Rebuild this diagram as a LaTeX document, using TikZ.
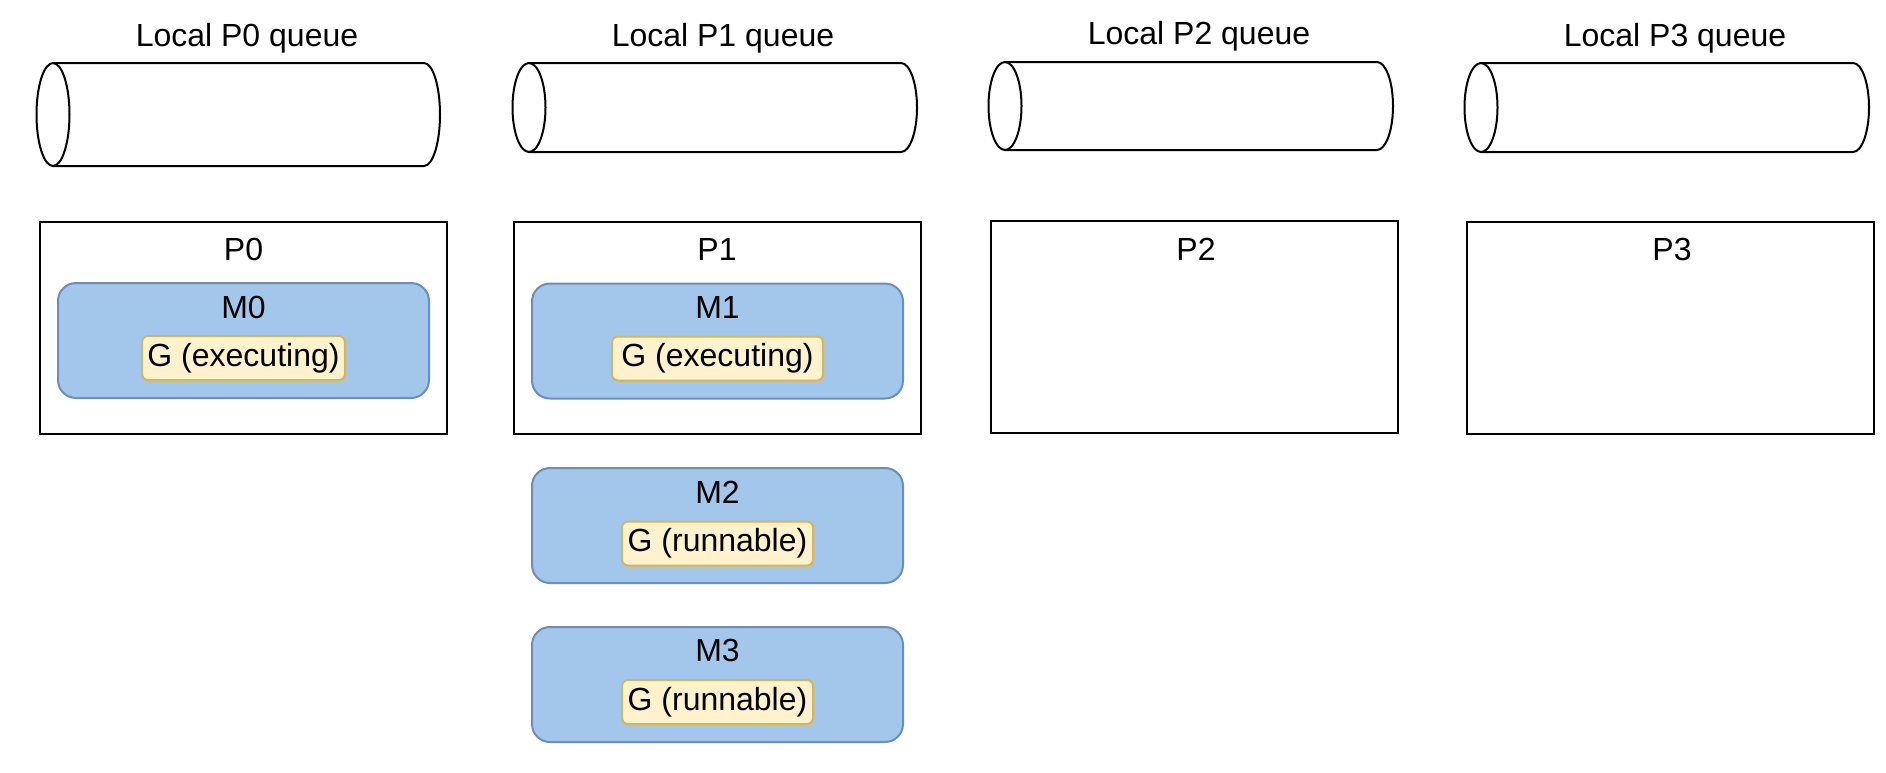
\documentclass[tikz,border=0pt]{standalone}
\usepackage{fontspec}
\setmainfont{Liberation Sans}
\definecolor{mfill}{HTML}{A3C7EA}
\definecolor{mdraw}{HTML}{6C8EBF}
\definecolor{gfill}{HTML}{FFF2CC}
\definecolor{gdraw}{HTML}{D6B656}
\begin{document}
\begin{tikzpicture}[x=1pt,y=-1pt,
  font=\fontsize{32}{38}\selectfont,
  pbox/.style={draw=black, line width=2pt, minimum height=212pt, minimum width=407pt, inner sep=0pt},
  mbox/.style={draw=mdraw, fill=mfill, line width=2pt, rounded corners=18pt, minimum width=371pt, minimum height=115pt, inner sep=0pt},
  gbox/.style={draw=gdraw, fill=gfill, line width=2pt, rounded corners=6pt, minimum height=44pt, inner sep=0pt},
  lbl/.style={anchor=base, inner sep=0pt},
  cyl/.style={draw=black, line width=2pt}]
\useasboundingbox (0,0) rectangle (1886,772);

% queues
\draw[cyl] (53,114.5) ellipse [x radius=16.5pt, y radius=51.5pt];
\draw[cyl] (53,63) -- (424,63) arc[start angle=90, end angle=-90, x radius=16pt, y radius=51.5pt] -- (53,166);
\coordinate (q0) at (238.5,114.5);
\node[lbl] (q0lbl) at (247,46.5) {Local P0 queue};

\draw[cyl] (529,107.5) ellipse [x radius=16.5pt, y radius=44.5pt];
\draw[cyl] (529,63) -- (901,63) arc[start angle=90, end angle=-90, x radius=16pt, y radius=44.5pt] -- (529,152);
\coordinate (q1) at (715,107.5);
\node[lbl] (q1lbl) at (723,46.5) {Local P1 queue};

\draw[cyl] (1005,106) ellipse [x radius=16.5pt, y radius=44pt];
\draw[cyl] (1005,62) -- (1377,62) arc[start angle=90, end angle=-90, x radius=16pt, y radius=44pt] -- (1005,150);
\coordinate (q2) at (1191,106);
\node[lbl] (q2lbl) at (1199,44.5) {Local P2 queue};

\draw[cyl] (1481,107.5) ellipse [x radius=16.5pt, y radius=44.5pt];
\draw[cyl] (1481,63) -- (1853,63) arc[start angle=90, end angle=-90, x radius=16pt, y radius=44.5pt] -- (1481,152);
\coordinate (q3) at (1667,107.5);
\node[lbl] (q3lbl) at (1675,46.5) {Local P3 queue};

% processors
\node[pbox] (p0) at (243.5,328) {};
\node[lbl] (p0lbl) at (243.5,260.5) {P0};
\node[pbox] (p1) at (717,327.5) {};
\node[lbl] (p1lbl) at (717,260.5) {P1};
\node[pbox] (p2) at (1194,326.5) {};
\node[lbl] (p2lbl) at (1196,260.5) {P2};
\node[pbox] (p3) at (1670,327.5) {};
\node[lbl] (p3lbl) at (1672,260.5) {P3};

% machines
\node[mbox] (m0) at (243.5,340.5) {};
\node[lbl] (m0lbl) at (243.5,318.5) {M0};
\node[gbox, minimum width=203pt] (g0) at (243.5,358) {G (executing)};

\node[mbox] (m1) at (717.5,341) {};
\node[lbl] (m1lbl) at (717.5,318.5) {M1};
\node[gbox, minimum width=211pt] (g1) at (717.5,358.5) {G (executing)};

\node[mbox] (m2) at (717.5,525.5) {};
\node[lbl] (m2lbl) at (717.5,503.5) {M2};
\node[gbox, minimum width=191pt] (g2) at (717.5,543.5) {G (runnable)};

\node[mbox] (m3) at (717.5,684.5) {};
\node[lbl] (m3lbl) at (717.5,661.5) {M3};
\node[gbox, minimum width=191pt] (g3) at (717.5,702) {G (runnable)};
\end{tikzpicture}
\end{document}
